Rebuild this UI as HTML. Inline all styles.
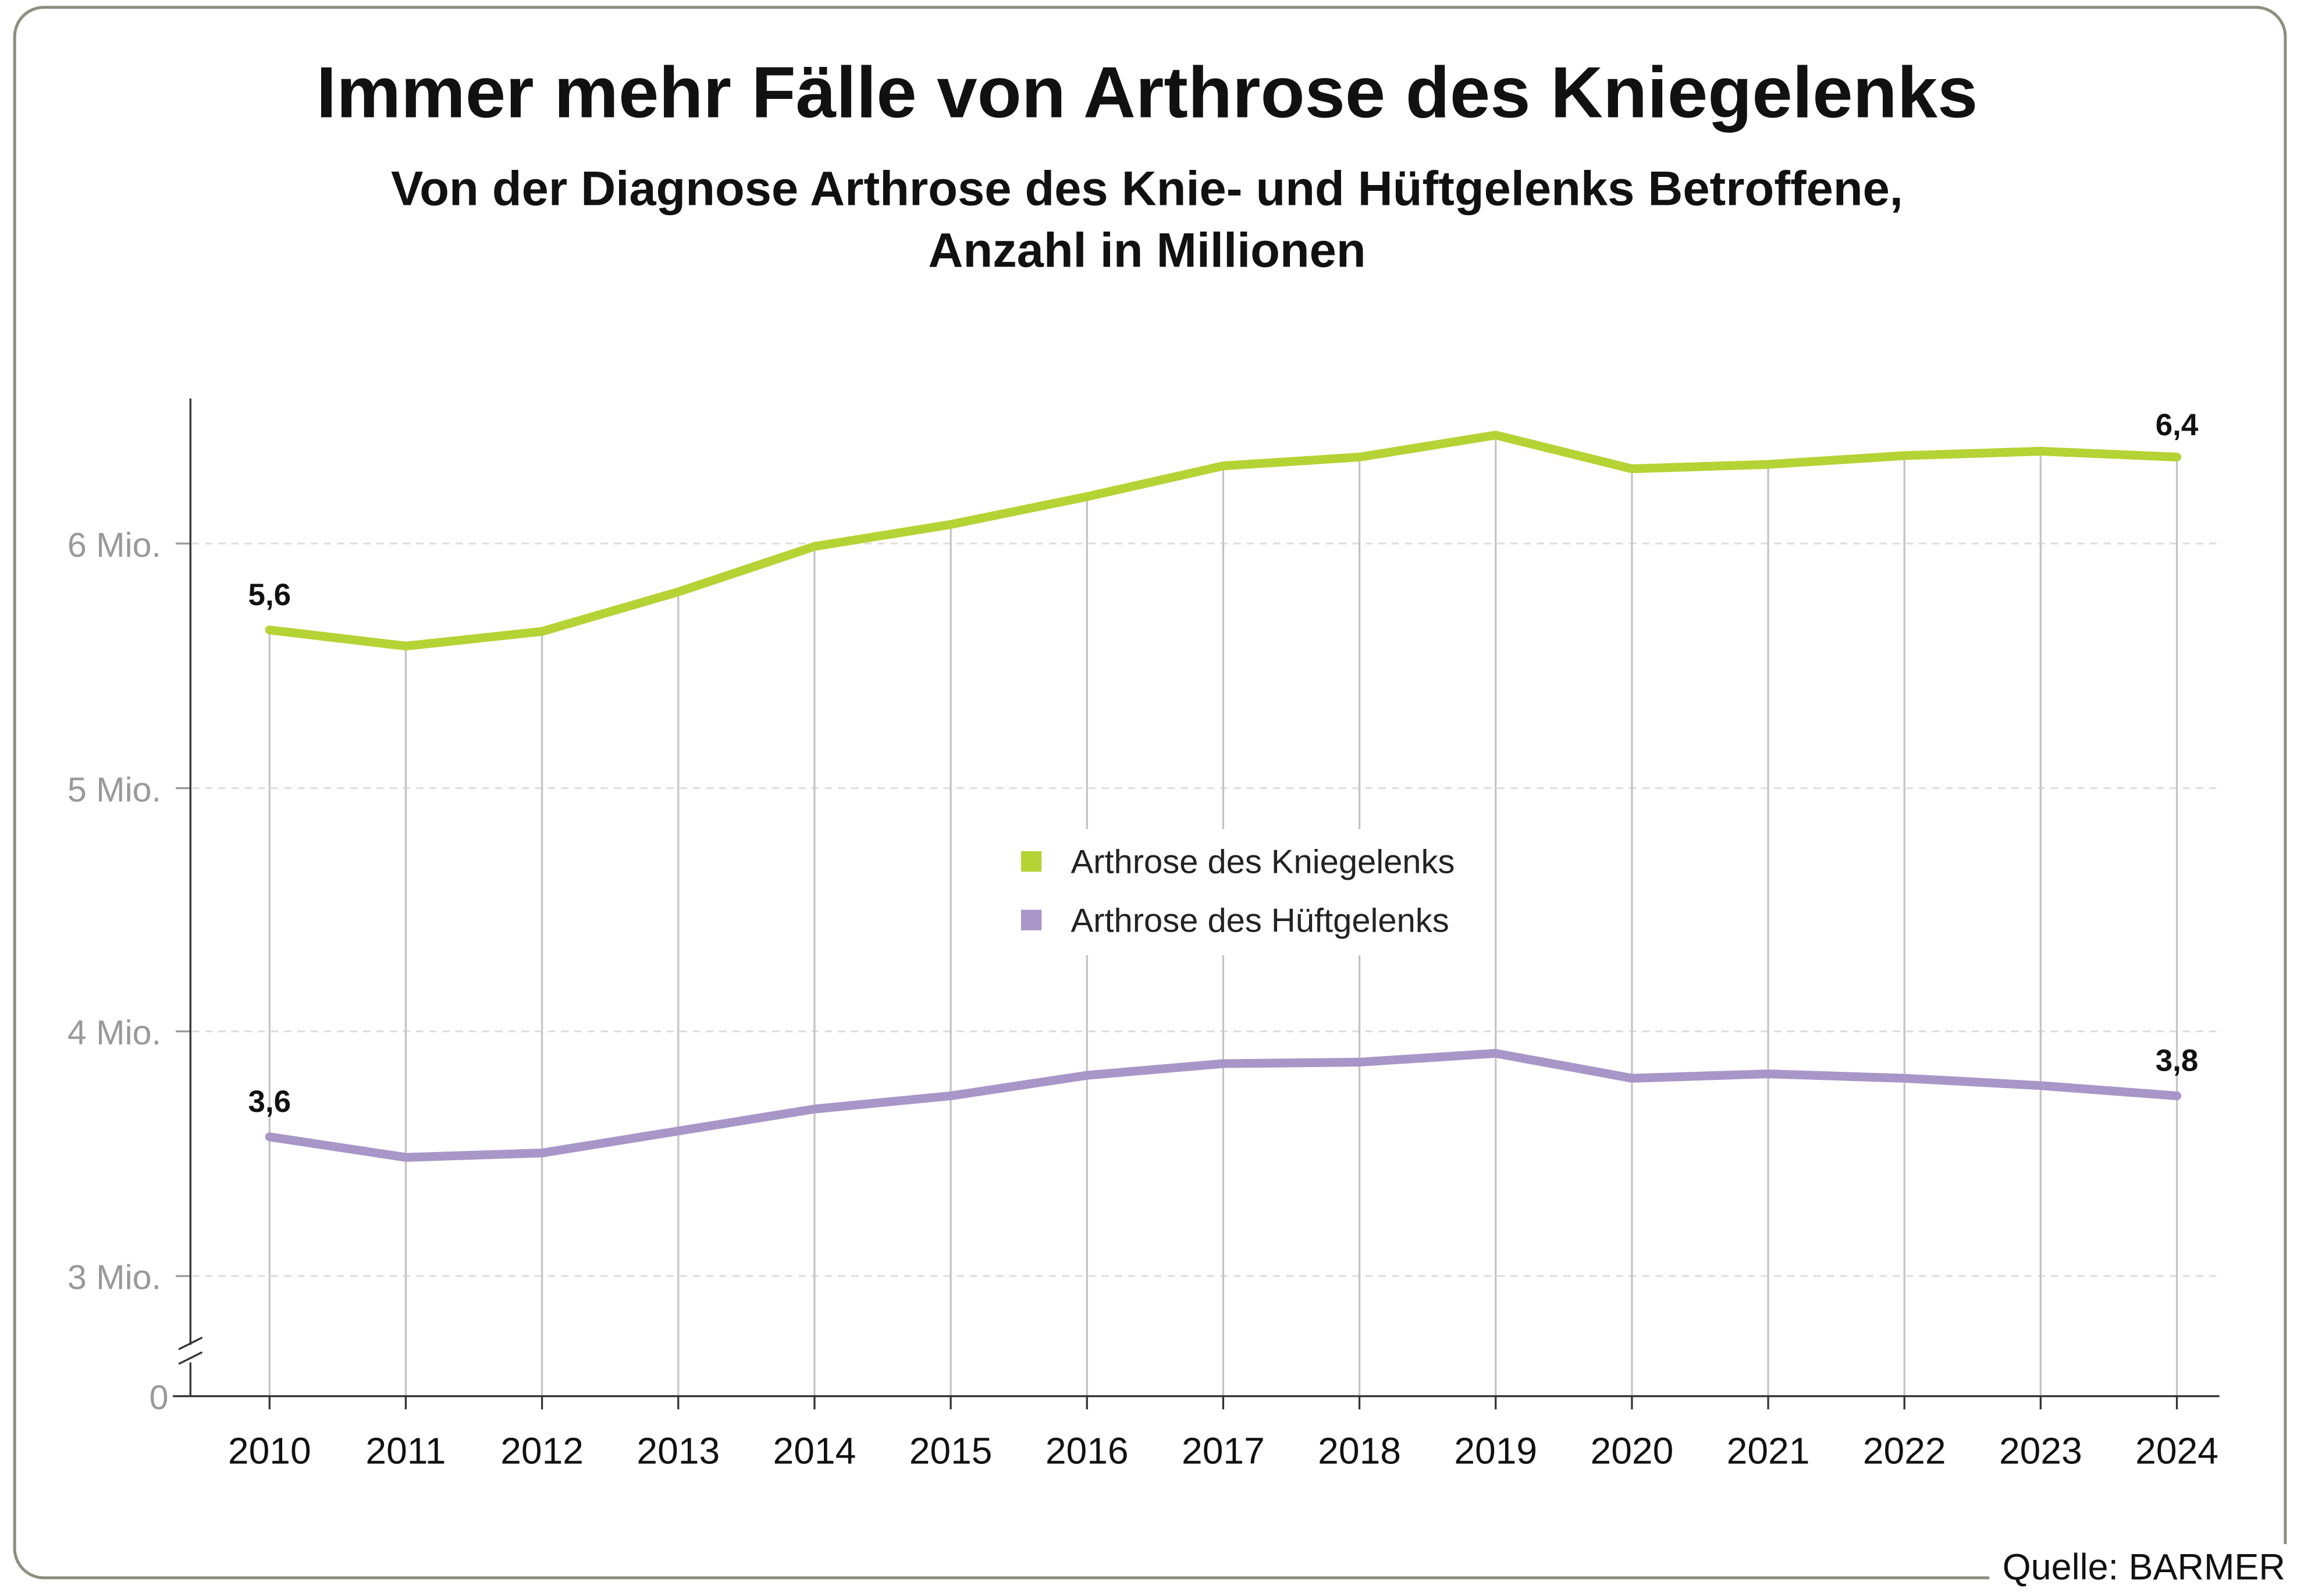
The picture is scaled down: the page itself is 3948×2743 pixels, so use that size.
<!DOCTYPE html>
<html><head><meta charset="utf-8"><style>
html,body{margin:0;padding:0;background:#fff;}
svg{display:block;}
text{font-family:"Liberation Sans",Arial,sans-serif;}
</style></head><body>
<svg width="3948" height="2743" viewBox="0 0 1568 1089.4" preserveAspectRatio="none" xmlns="http://www.w3.org/2000/svg">
<rect x="0" y="0" width="1568" height="1090" fill="#fff"/>
<rect x="10" y="5" width="1550" height="1072" rx="20" ry="20" fill="none" stroke="#8d8f7e" stroke-width="2"/>
<text x="783" y="80" text-anchor="middle" font-size="49.5" font-weight="bold" fill="#111">Immer mehr Fälle von Arthrose des Kniegelenks</text>
<text x="783" y="140" text-anchor="middle" font-size="33" font-weight="bold" fill="#111">Von der Diagnose Arthrose des Knie- und Hüftgelenks Betroffene,</text>
<text x="783" y="182" text-anchor="middle" font-size="33" font-weight="bold" fill="#111">Anzahl in Millionen</text>
<g stroke="#dddddd" stroke-width="1.2" stroke-dasharray="5,4">
<line x1="131" y1="371" x2="1515" y2="371"/>
<line x1="131" y1="538" x2="1515" y2="538"/>
<line x1="131" y1="704" x2="1515" y2="704"/>
<line x1="131" y1="871" x2="1515" y2="871"/>
</g>
<g font-size="23.5" fill="#999" text-anchor="end">
<text x="110" y="380">6 Mio.</text>
<text x="110" y="547">5 Mio.</text>
<text x="110" y="713">4 Mio.</text>
<text x="110" y="880">3 Mio.</text>
<text x="115" y="962">0</text>
</g>
<g stroke="#999" stroke-width="1.3">
<line x1="120" y1="371" x2="130" y2="371"/>
<line x1="120" y1="538" x2="130" y2="538"/>
<line x1="120" y1="704" x2="130" y2="704"/>
<line x1="120" y1="871" x2="130" y2="871"/>
</g>
<g stroke="#c4c4c4" stroke-width="1.3">
<line x1="184" y1="430" x2="184" y2="953"/>
<line x1="277" y1="441" x2="277" y2="953"/>
<line x1="370" y1="431" x2="370" y2="953"/>
<line x1="463" y1="404" x2="463" y2="953"/>
<line x1="556" y1="373" x2="556" y2="953"/>
<line x1="649" y1="358" x2="649" y2="953"/>
<line x1="742" y1="339" x2="742" y2="953"/>
<line x1="835" y1="318" x2="835" y2="953"/>
<line x1="928" y1="312" x2="928" y2="953"/>
<line x1="1021" y1="297" x2="1021" y2="953"/>
<line x1="1114" y1="320" x2="1114" y2="953"/>
<line x1="1207" y1="317" x2="1207" y2="953"/>
<line x1="1300" y1="311" x2="1300" y2="953"/>
<line x1="1393" y1="308" x2="1393" y2="953"/>
<line x1="1486" y1="312" x2="1486" y2="953"/>
</g>
<line x1="130" y1="272" x2="130" y2="918" stroke="#333" stroke-width="1.3"/>
<line x1="130" y1="930" x2="130" y2="953" stroke="#333" stroke-width="1.3"/>
<line x1="122" y1="921" x2="138" y2="913" stroke="#333" stroke-width="1.3"/>
<line x1="122" y1="931" x2="138" y2="923" stroke="#333" stroke-width="1.3"/>
<line x1="118" y1="953" x2="1515" y2="953" stroke="#333" stroke-width="1.3"/>
<g stroke="#333" stroke-width="1.3">
<line x1="184" y1="953" x2="184" y2="962"/><line x1="277" y1="953" x2="277" y2="962"/><line x1="370" y1="953" x2="370" y2="962"/><line x1="463" y1="953" x2="463" y2="962"/><line x1="556" y1="953" x2="556" y2="962"/><line x1="649" y1="953" x2="649" y2="962"/><line x1="742" y1="953" x2="742" y2="962"/><line x1="835" y1="953" x2="835" y2="962"/><line x1="928" y1="953" x2="928" y2="962"/><line x1="1021" y1="953" x2="1021" y2="962"/><line x1="1114" y1="953" x2="1114" y2="962"/><line x1="1207" y1="953" x2="1207" y2="962"/><line x1="1300" y1="953" x2="1300" y2="962"/><line x1="1393" y1="953" x2="1393" y2="962"/><line x1="1486" y1="953" x2="1486" y2="962"/>
</g>
<g font-size="25.5" fill="#111" text-anchor="middle">
<text x="184" y="999">2010</text><text x="277" y="999">2011</text><text x="370" y="999">2012</text><text x="463" y="999">2013</text><text x="556" y="999">2014</text><text x="649" y="999">2015</text><text x="742" y="999">2016</text><text x="835" y="999">2017</text><text x="928" y="999">2018</text><text x="1021" y="999">2019</text><text x="1114" y="999">2020</text><text x="1207" y="999">2021</text><text x="1300" y="999">2022</text><text x="1393" y="999">2023</text><text x="1486" y="999">2024</text>
</g>
<rect x="688" y="566" width="325" height="86" fill="#fff"/>
<rect x="697" y="581" width="14" height="14" fill="#b5d334"/>
<rect x="697" y="621" width="14" height="14" fill="#a896c8"/>
<text x="731" y="596" font-size="23" fill="#222">Arthrose des Kniegelenks</text>
<text x="731" y="636" font-size="23" fill="#222">Arthrose des Hüftgelenks</text>
<polyline fill="none" stroke="#b5d334" stroke-width="6" stroke-linejoin="round" stroke-linecap="round" points="184,430 277,441 370,431 463,404 556,373 649,358 742,339 835,318 928,312 1021,297 1114,320 1207,317 1300,311 1393,308 1486,312"/>
<polyline fill="none" stroke="#a896c8" stroke-width="6" stroke-linejoin="round" stroke-linecap="round" points="184,776 277,790 370,787 463,772 556,757 649,748 742,734 835,726 928,725 1021,719 1114,736 1207,733 1300,736 1393,741 1486,748"/>
<g font-size="21" font-weight="bold" fill="#111" text-anchor="middle">
<text x="184" y="413">5,6</text>
<text x="1486" y="297">6,4</text>
<text x="184" y="759">3,6</text>
<text x="1486" y="731">3,8</text>
</g>
<rect x="1358" y="1054" width="210" height="36" fill="#fff"/>
<text x="1560" y="1078" text-anchor="end" font-size="25" fill="#111">Quelle: BARMER</text>
</svg>
</body></html>
